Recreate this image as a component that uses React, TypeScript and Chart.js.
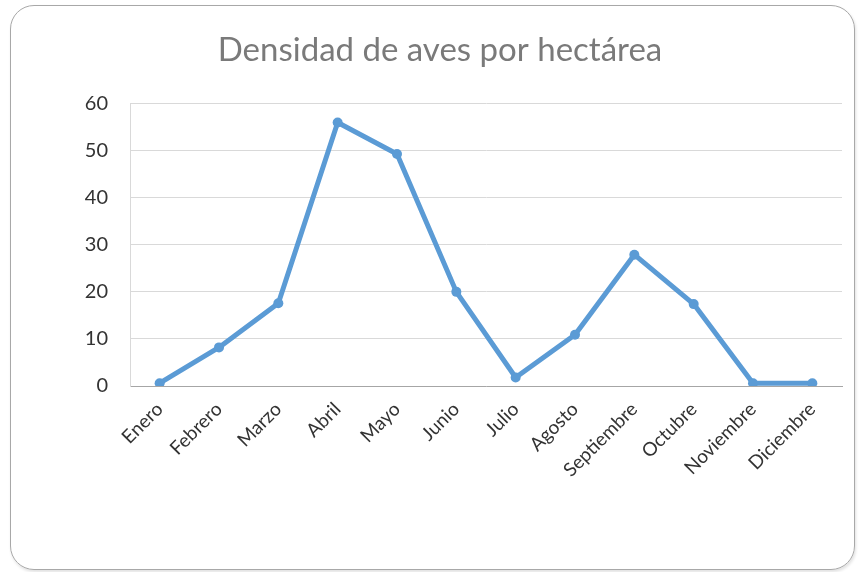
import React, { useEffect, useRef } from "react";
import { Chart, registerables } from "chart.js";

Chart.register(...registerables);

const months = [
  "Enero", "Febrero", "Marzo", "Abril", "Mayo", "Junio",
  "Julio", "Agosto", "Septiembre", "Octubre", "Noviembre", "Diciembre",
];
const density = [0.6, 8.2, 17.6, 56, 49.3, 20, 1.8, 10.9, 27.9, 17.4, 0.6, 0.6];
const yTicks = [0, 10, 20, 30, 40, 50, 60];
const chartTitle = "Densidad de aves por hectárea";

const FONT = "Lato, 'Open Sans', sans-serif";

export default function App() {
  const ref = useRef<HTMLCanvasElement | null>(null);

  useEffect(() => {
    document.body.style.margin = "0";
    if (!ref.current) return;
    const chart = new Chart(ref.current, {
      type: "line",
      data: {
        labels: months,
        datasets: [
          {
            data: density,
            borderColor: "#5B9BD5",
            backgroundColor: "#5B9BD5",
            borderWidth: 5,
            pointRadius: 5,
            pointBorderWidth: 0,
            pointBackgroundColor: "#5B9BD5",
            tension: 0,
            borderJoinStyle: "round",
            borderCapStyle: "round",
          },
        ],
      },
      options: {
        responsive: false,
        animation: false,
        layout: { padding: { left: 38, right: 18, top: 0, bottom: 0 } },
        plugins: {
          legend: { display: false },
          tooltip: { enabled: false },
          title: {
            display: true,
            text: chartTitle,
            color: "#7a7a7a",
            font: { family: FONT, size: 33, weight: "normal", lineHeight: 1.2 },
            padding: { top: 31, bottom: 33 },
          },
        },
        scales: {
          x: {
            offset: true,
            grid: { display: false, drawTicks: false },
            border: { display: true, color: "#a6a6a6", width: 1 },
            ticks: {
              color: "#333333",
              font: { family: FONT, size: 19 },
              minRotation: 45,
              maxRotation: 45,
              padding: 12,
              autoSkip: false,
            },
            afterFit: (s: any) => {
              s.height = 572 - 386;
            },
          },
          y: {
            min: 0,
            max: 60,
            afterBuildTicks: (s: any) => {
              s.ticks = yTicks.map((v) => ({ value: v }));
            },
            grid: { color: "#d9d9d9", lineWidth: 1, drawTicks: false },
            border: { display: true, color: "#d9d9d9", width: 1 },
            ticks: {
              color: "#333333",
              font: { family: FONT, size: 20 },
              padding: 22,
            },
            afterFit: (s: any) => {
              s.width = 92;
            },
          },
        },
      },
    });
    return () => chart.destroy();
  }, []);

  return (
    <div style={{ position: "fixed", left: 0, top: 0, width: 860, height: 572, background: "#fff" }}>
      <div
        style={{
          position: "absolute",
          left: 10,
          top: 5,
          width: 845,
          height: 565,
          boxSizing: "border-box",
          border: "1.5px solid #a8a8a8",
          borderRadius: 24,
          boxShadow: "1px 2px 3px rgba(0,0,0,0.12)",
        }}
      />
      <canvas ref={ref} width={860} height={572} style={{ position: "absolute", left: 0, top: 0 }} />
    </div>
  );
}
